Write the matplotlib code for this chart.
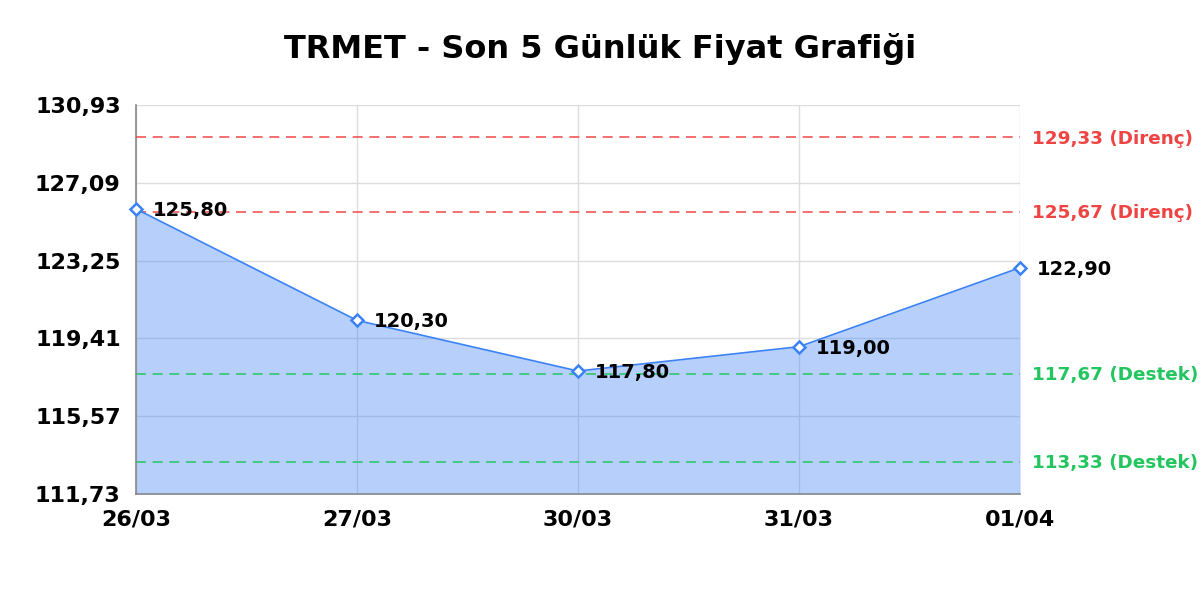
import numpy as np
import matplotlib
matplotlib.use('Agg')
import matplotlib.pyplot as plt

# Veriler
gunler = ['26/03', '27/03', '30/03', '31/03', '01/04']
fiyatlar = [125.80, 120.30, 117.80, 119.00, 122.90]
direnc = [129.33, 125.67]
destek = [117.67, 113.33]
y_ticks = [111.73, 115.57, 119.41, 123.25, 127.09, 130.93]

def tr(v):
    return f'{v:.2f}'.replace('.', ',')

fig = plt.figure(figsize=(12, 6), dpi=100, facecolor='white')
ax = fig.add_axes([0.1133, 0.1767, 0.7367, 0.6483])

x = np.arange(len(gunler))

ax.fill_between(x, fiyatlar, y_ticks[0], color='#3b82f6', alpha=0.37, linewidth=0, zorder=2)
ax.plot(x, fiyatlar, color='#3b82f6', linewidth=1.2, zorder=4)
ax.plot(x, fiyatlar, linestyle='none', marker='D', markersize=6.5,
        markerfacecolor='white', markeredgecolor='#3b82f6', markeredgewidth=1.8,
        zorder=6, clip_on=False)

for xi, v in zip(x, fiyatlar):
    ax.annotate(tr(v), (xi, v), xytext=(12, -1), textcoords='offset points',
                fontsize=14, fontweight='bold', va='center', ha='left',
                color='#000000', zorder=7)

# sağ kenara sığsın diye biraz küçük
for v in direnc:
    ax.axhline(v, color='#ef4444', linestyle=(0, (6, 4)), linewidth=1.2, alpha=0.9, zorder=3)
    ax.annotate(f'{tr(v)} (Direnç)', (1, v), xycoords=('axes fraction', 'data'),
                xytext=(9, -1), textcoords='offset points', va='center', ha='left',
                fontsize=13.2, fontweight='bold', color='#ef4444', annotation_clip=False)
for v in destek:
    ax.axhline(v, color='#22c55e', linestyle=(0, (6, 4)), linewidth=1.2, alpha=0.9, zorder=3)
    ax.annotate(f'{tr(v)} (Destek)', (1, v), xycoords=('axes fraction', 'data'),
                xytext=(9, -1), textcoords='offset points', va='center', ha='left',
                fontsize=13.2, fontweight='bold', color='#22c55e', annotation_clip=False)

ax.set_xlim(0, len(gunler) - 1)
ax.set_ylim(y_ticks[0], y_ticks[-1])
ax.set_xticks(x)
ax.set_xticklabels(gunler)
ax.set_yticks(y_ticks)
ax.set_yticklabels([tr(v) for v in y_ticks])
ax.tick_params(axis='y', length=0, labelsize=16, pad=11)
ax.tick_params(axis='x', length=0, labelsize=16, pad=11)
for lab in ax.get_xticklabels() + ax.get_yticklabels():
    lab.set_fontweight('bold')

ax.grid(True, color='#dddddd', linewidth=1, zorder=1)
ax.set_axisbelow(True)
for s in ['top', 'right']:
    ax.spines[s].set_visible(False)
for s in ['left', 'bottom']:
    ax.spines[s].set_color('#888888')
    ax.spines[s].set_linewidth(1.2)

fig.text(0.5, 0.918, 'TRMET - Son 5 Günlük Fiyat Grafiği', ha='center', va='center',
         fontsize=23, fontweight='bold', color='#000000')

fig.savefig('out.png', dpi=100)
